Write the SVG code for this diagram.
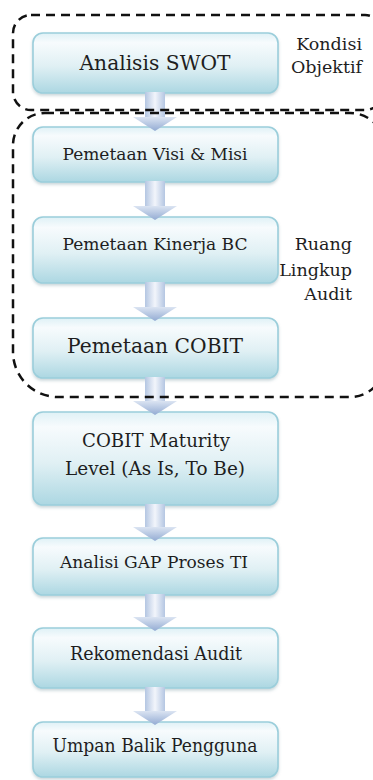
<svg xmlns="http://www.w3.org/2000/svg" width="373" height="780" viewBox="0 0 373 780">
<defs>
<linearGradient id="boxg" x1="0" y1="0" x2="0" y2="1">
<stop offset="0" stop-color="#dff1f6"/>
<stop offset="0.16" stop-color="#f7fbfd"/>
<stop offset="0.55" stop-color="#e0f0f4"/>
<stop offset="1" stop-color="#acd7e2"/>
</linearGradient>
<linearGradient id="shaftg" x1="0" y1="0" x2="1" y2="0">
<stop offset="0" stop-color="#b4c6e2"/>
<stop offset="0.5" stop-color="#f2f5fb"/>
<stop offset="1" stop-color="#b4c6e2"/>
</linearGradient>
<linearGradient id="headg" x1="0" y1="0" x2="0" y2="1">
<stop offset="0" stop-color="#dbe4f2"/>
<stop offset="1" stop-color="#93abd3"/>
</linearGradient>
<filter id="sh" x="-10%" y="-10%" width="120%" height="130%">
<feDropShadow dx="0" dy="2" stdDeviation="1.5" flood-color="#6a8f99" flood-opacity="0.35"/>
</filter>
</defs>
<style>
.box{fill:url(#boxg);stroke:#9bcedb;stroke-width:1.6;filter:url(#sh)}
.t{font-family:"DejaVu Serif","Liberation Serif",serif;fill:#1e1e1e;text-anchor:middle}
.lbl{font-family:"DejaVu Serif","Liberation Serif",serif;fill:#1e1e1e;text-anchor:end;font-size:17.5px}
.shaft{fill:url(#shaftg)}
.head{fill:url(#headg)}
.dash{fill:none;stroke:#111;stroke-width:2.5;stroke-dasharray:9 6}
</style>

<g id="n1"><rect class="box" x="33" y="33" width="245" height="60" rx="10"/><text class="t" x="155" y="70" font-size="21" textLength="151" lengthAdjust="spacingAndGlyphs">Analisis SWOT</text></g>
<g id="n2"><rect class="box" x="33" y="127" width="245" height="55" rx="10"/><text class="t" x="155" y="160" font-size="17" textLength="185" lengthAdjust="spacingAndGlyphs">Pemetaan Visi &amp; Misi</text></g>
<g id="n3"><rect class="box" x="33" y="217" width="245" height="66" rx="10"/><text class="t" x="155" y="250" font-size="17.5" textLength="185" lengthAdjust="spacingAndGlyphs">Pemetaan Kinerja BC</text></g>
<g id="n4"><rect class="box" x="33" y="318" width="245" height="60" rx="10"/><text class="t" x="155" y="353" font-size="21" textLength="176" lengthAdjust="spacingAndGlyphs">Pemetaan COBIT</text></g>
<g id="n5"><rect class="box" x="33" y="412" width="245" height="93" rx="10"/><text class="t" x="156" y="447" font-size="18" textLength="148" lengthAdjust="spacingAndGlyphs">COBIT  Maturity</text><text class="t" x="155" y="475" font-size="18" textLength="180" lengthAdjust="spacingAndGlyphs">Level  (As Is, To Be)</text></g>
<g id="n6"><rect class="box" x="33" y="538" width="245" height="57" rx="10"/><text class="t" x="154" y="568" font-size="17" textLength="188" lengthAdjust="spacingAndGlyphs">Analisi GAP Proses TI</text></g>
<g id="n7"><rect class="box" x="33" y="628" width="245" height="60" rx="10"/><text class="t" x="156" y="660" font-size="18" textLength="172" lengthAdjust="spacingAndGlyphs">Rekomendasi Audit</text></g>
<g id="n8"><rect class="box" x="33" y="722" width="245" height="55" rx="10"/><text class="t" x="155" y="752" font-size="18" textLength="205" lengthAdjust="spacingAndGlyphs">Umpan Balik Pengguna</text></g>

<g id="connectors">
<g><rect class="shaft" x="145" y="92" width="20" height="25"/><polygon class="head" points="133,117 177,117 155,131"/></g>
<g><rect class="shaft" x="145" y="181" width="20" height="25"/><polygon class="head" points="133,206 177,206 155,220"/></g>
<g><rect class="shaft" x="145" y="282" width="20" height="25"/><polygon class="head" points="133,307 177,307 155,321"/></g>
<g><rect class="shaft" x="145" y="377" width="20" height="24"/><polygon class="head" points="133,401 177,401 155,415"/></g>
<g><rect class="shaft" x="145" y="504" width="20" height="23"/><polygon class="head" points="133,527 177,527 155,541"/></g>
<g><rect class="shaft" x="145" y="594" width="20" height="23"/><polygon class="head" points="133,617 177,617 155,631"/></g>
<g><rect class="shaft" x="145" y="687" width="20" height="24"/><polygon class="head" points="133,711 177,711 155,725"/></g>
</g>

<g id="group-kondisi">
<rect class="dash" x="13" y="15" width="370" height="95" rx="18"/>
<text class="lbl" x="362" y="50">Kondisi</text>
<text class="lbl" x="362" y="73">Objektif</text>
</g>
<g id="group-ruang">
<path class="dash" d="M45,113 L350,113 A35,35 0 0 1 385,148 L385,362 A35,35 0 0 1 350,397 L58,397 A45,45 0 0 1 13,352 L13,145 A32,32 0 0 1 45,113 Z"/>
<text class="lbl" x="352" y="250">Ruang</text>
<text class="lbl" x="352" y="276">Lingkup</text>
<text class="lbl" x="352" y="300">Audit</text>
</g>
</svg>
